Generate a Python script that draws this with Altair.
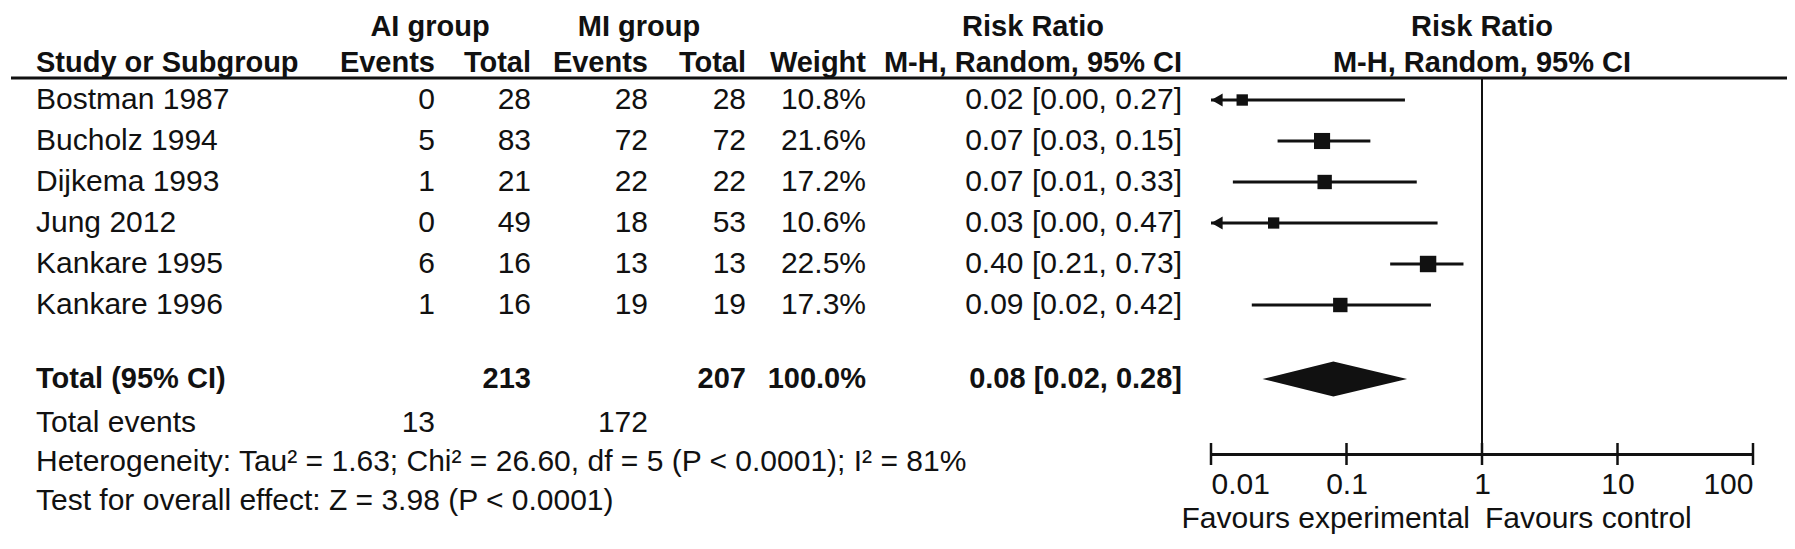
import altair as alt
import pandas as pd

# ---------------- data ----------------
studies = ["Bostman 1987", "Bucholz 1994", "Dijkema 1993", "Jung 2012", "Kankare 1995", "Kankare 1996"]
ai_events = [0, 5, 1, 0, 6, 1]
ai_total = [28, 83, 21, 49, 16, 16]
mi_events = [28, 72, 22, 18, 13, 19]
mi_total = [28, 72, 22, 53, 13, 19]
weights = [10.8, 21.6, 17.2, 10.6, 22.5, 17.3]
rr_text = ["0.02 [0.00, 0.27]", "0.07 [0.03, 0.15]", "0.07 [0.01, 0.33]",
           "0.03 [0.00, 0.47]", "0.40 [0.21, 0.73]", "0.09 [0.02, 0.42]"]
# positions read from the plotted CIs
rr_est = [0.017, 0.066, 0.069, 0.029, 0.40, 0.09]
rr_lo = [0.004, 0.031, 0.0145, 0.002, 0.21, 0.02]
rr_hi = [0.27, 0.15, 0.33, 0.47, 0.73, 0.42]

total_label = "Total (95% CI)"
total_ai = 213
total_mi = 207
total_weight = "100.0%"
total_rr_text = "0.08 [0.02, 0.28]"
pooled = [0.024, 0.08, 0.28]  # lower, estimate, upper
events_label = "Total events"
events_ai = 13
events_mi = 172
het_text = "Heterogeneity: Tau\u00b2 = 1.63; Chi\u00b2 = 26.60, df = 5 (P < 0.0001); I\u00b2 = 81%"
test_text = "Test for overall effect: Z = 3.98 (P < 0.0001)"
axis_ticks = [0.01, 0.1, 1, 10, 100]
fav_left = "Favours experimental"
fav_right = "Favours control"

# ---------------- layout ----------------
W, H = 1779, 446
FONT = "Liberation Sans"
FS = 30      # regular text
FSB = 29     # bold text
INK = "#111111"
COL = {"study": 28, "ai_ev": 427, "ai_tot": 523, "mi_ev": 640, "mi_tot": 738,
       "weight": 858, "rr": 1174, "ai_grp": 422, "mi_grp": 631, "rr_head": 1025}
STEP = 41.0
Y0 = 100.0  # page y of first study row
def r(page_y):
    return (page_y - Y0) / STEP
ROW = {"h1": r(27), "h2": r(63), "rule": r(78), "total": r(379), "events": r(423),
       "het": r(462), "test": r(501), "axis": r(454), "fav": r(519)}

xs_text = alt.Scale(domain=[0, W], nice=False, zero=False)
xs_log = alt.Scale(type="log", domain=[0.01, 100], range=[1203, 1745], nice=False, clamp=True)
ys = alt.Scale(domain=[r(8), r(8 + H)], reverse=True, nice=False, zero=False)

# ---------------- text table ----------------
cells = []
def cell(text, col, row, align, bold):
    cells.append({"text": str(text), "x": COL[col], "row": row, "al": align,
                  "wt": "bold" if bold else "normal"})

cell("AI group", "ai_grp", ROW["h1"], "center", True)
cell("MI group", "mi_grp", ROW["h1"], "center", True)
cell("Risk Ratio", "rr_head", ROW["h1"], "center", True)
cell("Study or Subgroup", "study", ROW["h2"], "left", True)
for c, t in [("ai_ev", "Events"), ("ai_tot", "Total"), ("mi_ev", "Events"), ("mi_tot", "Total"),
             ("weight", "Weight"), ("rr", "M-H, Random, 95% CI")]:
    cell(t, c, ROW["h2"], "right", True)
for i, s in enumerate(studies):
    cell(s, "study", i, "left", False)
    cell(ai_events[i], "ai_ev", i, "right", False)
    cell(ai_total[i], "ai_tot", i, "right", False)
    cell(mi_events[i], "mi_ev", i, "right", False)
    cell(mi_total[i], "mi_tot", i, "right", False)
    cell(f"{weights[i]:.1f}%", "weight", i, "right", False)
    cell(rr_text[i], "rr", i, "right", False)
cell(total_label, "study", ROW["total"], "left", True)
cell(total_ai, "ai_tot", ROW["total"], "right", True)
cell(total_mi, "mi_tot", ROW["total"], "right", True)
cell(total_weight, "weight", ROW["total"], "right", True)
cell(total_rr_text, "rr", ROW["total"], "right", True)
cell(events_label, "study", ROW["events"], "left", False)
cell(events_ai, "ai_ev", ROW["events"], "right", False)
cell(events_mi, "mi_ev", ROW["events"], "right", False)
cell(het_text, "study", ROW["het"], "left", False)
cell(test_text, "study", ROW["test"], "left", False)
cells_df = pd.DataFrame(cells)

text_layers = []
for align in ["left", "right", "center"]:
    for wt in ["normal", "bold"]:
        sub = cells_df[(cells_df["al"] == align) & (cells_df["wt"] == wt)].reset_index(drop=True)
        if len(sub) == 0:
            continue
        text_layers.append(
            alt.Chart(sub).mark_text(align=align, baseline="middle", font=FONT,
                                     fontSize=FSB if wt == "bold" else FS,
                                     color=INK, fontWeight=wt)
            .encode(x=alt.X("x:Q", scale=xs_text, axis=None),
                    y=alt.Y("row:Q", scale=ys, axis=None),
                    text="text:N")
        )

rule_df = pd.DataFrame([{"x0": 3, "x1": W, "row": ROW["rule"]}])
header_rule = alt.Chart(rule_df).mark_rule(color=INK, strokeWidth=3).encode(
    x=alt.X("x0:Q", scale=xs_text, axis=None), x2="x1:Q",
    y=alt.Y("row:Q", scale=ys, axis=None))

text_group = alt.layer(header_rule, *text_layers)

# ---------------- forest plot ----------------
fdf = pd.DataFrame({"study": studies, "row": list(range(len(studies))), "est": rr_est,
                    "lo": rr_lo, "hi": rr_hi, "w": weights})
fdf["lo_c"] = fdf["lo"].clip(lower=0.01)
arrow_df = fdf[fdf["lo"] < 0.01].reset_index(drop=True)

xaxis = alt.Axis(values=axis_ticks, format="~g", ticks=False, grid=False, domain=True,
                 domainColor=INK, domainWidth=3, labelFont=FONT, labelFontSize=FS,
                 labelColor=INK, labelPadding=15, labelOverlap=False, title=None)

ci = alt.Chart(fdf).mark_rule(color=INK, strokeWidth=3).encode(
    x=alt.X("lo_c:Q", scale=xs_log, axis=xaxis), x2="hi:Q",
    y=alt.Y("row:Q", scale=ys, axis=None))

squares = alt.Chart(fdf).mark_square(color=INK, opacity=1).encode(
    x=alt.X("est:Q", scale=xs_log, axis=xaxis),
    y=alt.Y("row:Q", scale=ys, axis=None),
    size=alt.Size("w:Q", scale=alt.Scale(domain=[0, 22.5], range=[0, 270]), legend=None))

arrows = alt.Chart(arrow_df).mark_point(shape="triangle-left", filled=True, size=170,
                                         color=INK, opacity=1, xOffset=6).encode(
    x=alt.X("lo_c:Q", scale=xs_log, axis=xaxis),
    y=alt.Y("row:Q", scale=ys, axis=None))

DH = 17.5 / STEP
dia_df = pd.DataFrame({"x": pooled,
                       "y1": [ROW["total"], ROW["total"] - DH, ROW["total"]],
                       "y2": [ROW["total"], ROW["total"] + DH, ROW["total"]]})
diamond = alt.Chart(dia_df).mark_area(color=INK, opacity=1, line=False).encode(
    x=alt.X("x:Q", scale=xs_log, axis=xaxis),
    y=alt.Y("y1:Q", scale=ys, axis=None), y2="y2:Q")

vline = alt.Chart(fdf).mark_rule(color=INK, strokeWidth=2).encode(
    x=alt.XDatum(1, scale=xs_log, axis=xaxis),
    y=alt.YDatum(ROW["rule"], scale=ys, axis=None),
    y2=alt.Y2Datum(ROW["axis"]))

tick_df = pd.DataFrame({"t": axis_ticks, "row": [ROW["axis"]] * len(axis_ticks)})
ticks = alt.Chart(tick_df).mark_tick(orient="vertical", size=22, thickness=2.5, color=INK,
                                     opacity=1).encode(
    x=alt.X("t:Q", scale=xs_log, axis=xaxis),
    y=alt.Y("row:Q", scale=ys, axis=None))

rhead_df = pd.DataFrame({"t": [1, 1], "row": [ROW["h1"], ROW["h2"]],
                         "text": ["Risk Ratio", "M-H, Random, 95% CI"]})
rheads = alt.Chart(rhead_df).mark_text(align="center", baseline="middle", font=FONT,
                                       fontSize=FSB, fontWeight="bold", color=INK).encode(
    x=alt.X("t:Q", scale=xs_log, axis=xaxis),
    y=alt.Y("row:Q", scale=ys, axis=None), text="text:N")

fav_df = pd.DataFrame({"t": [1], "row": [ROW["fav"]], "l": [fav_left], "r": [fav_right]})
fav_l = alt.Chart(fav_df).mark_text(align="right", baseline="middle", font=FONT, fontSize=30,
                                    color=INK, dx=-12).encode(
    x=alt.X("t:Q", scale=xs_log, axis=xaxis), y=alt.Y("row:Q", scale=ys, axis=None), text="l:N")
fav_r = alt.Chart(fav_df).mark_text(align="left", baseline="middle", font=FONT, fontSize=30,
                                    color=INK, dx=3).encode(
    x=alt.X("t:Q", scale=xs_log, axis=xaxis), y=alt.Y("row:Q", scale=ys, axis=None), text="r:N")

forest_group = alt.layer(vline, ci, squares, arrows, diamond, ticks, rheads, fav_l, fav_r)

chart = alt.layer(text_group, forest_group).resolve_scale(x="independent").properties(
    width=W, height=H, autosize="none",
    padding={"left": 0, "top": 0, "right": 0, "bottom": 87},
    background="white"
).configure_view(stroke=None)

chart.save("out.html", embed_options={"renderer": "svg", "actions": False})
